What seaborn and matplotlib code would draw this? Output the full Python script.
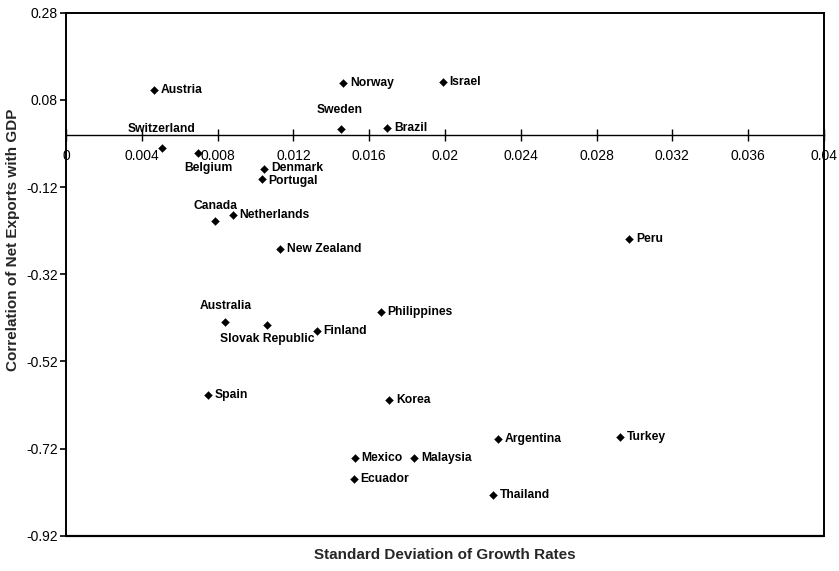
import matplotlib
matplotlib.use("Agg")
import matplotlib.pyplot as plt
import seaborn as sns
import pandas as pd
import numpy as np

countries = ["Austria", "Norway", "Israel", "Sweden", "Brazil", "Switzerland",
             "Belgium", "Denmark", "Portugal", "Canada", "Netherlands",
             "New Zealand", "Peru", "Australia", "Slovak Republic", "Finland",
             "Philippines", "Spain", "Korea", "Argentina", "Turkey", "Mexico",
             "Malaysia", "Ecuador", "Thailand"]
std_growth = [0.00464, 0.01462, 0.01988, 0.0145, 0.01695, 0.00507,
              0.00698, 0.01047, 0.01033, 0.00788, 0.0088,
              0.01129, 0.02973, 0.00841, 0.01062, 0.01323,
              0.01661, 0.00748, 0.01704, 0.02278, 0.02923, 0.01523,
              0.01838, 0.01518, 0.02252]
corr_nx = [0.102, 0.118, 0.120, 0.014, 0.016, -0.030,
           -0.041, -0.079, -0.102, -0.199, -0.184,
           -0.262, -0.239, -0.430, -0.436, -0.450,
           -0.4075, -0.597, -0.609, -0.697, -0.694, -0.742,
           -0.741, -0.791, -0.827]

x_ticks = [0, 0.004, 0.008, 0.012, 0.016, 0.02, 0.024, 0.028, 0.032, 0.036, 0.04]
x_tick_labels = ["0", "0.004", "0.008", "0.012", "0.016", "0.02", "0.024",
                 "0.028", "0.032", "0.036", "0.04"]
y_ticks = [0.28, 0.08, -0.12, -0.32, -0.52, -0.72, -0.92]
y_tick_labels = ["0.28", "0.08", "-0.12", "-0.32", "-0.52", "-0.72", "-0.92"]

df = pd.DataFrame({"country": countries, "sd": std_growth, "corr": corr_nx})

sns.set_style("white")
plt.rcParams["font.family"] = ["Liberation Sans", "DejaVu Sans"]
plt.rcParams["axes.unicode_minus"] = False

fig = plt.figure(figsize=(8.39, 5.71), dpi=100)
ax = fig.add_axes([66 / 839, 1 - 535.7 / 571, (824 - 66) / 839, (535.7 - 12.7) / 571])

sns.scatterplot(data=df, x="sd", y="corr", marker="D", s=16, color="black",
                edgecolor="black", linewidth=0.3, ax=ax, zorder=3)

# label placement (style): offsets in points and alignment
special = {
    "Sweden": ((-1, 9), "center", "bottom"),
    "Switzerland": ((0, 9), "center", "bottom"),
    "Belgium": ((7, -7), "center", "top"),
    "Canada": ((0, 7), "center", "bottom"),
    "Australia": ((0, 7), "center", "bottom"),
    "Slovak Republic": ((0, -6), "center", "top"),
    "Denmark": ((5, 1), "left", "center"),
    "Portugal": ((5, -1), "left", "center"),
}
for c, xv, yv in zip(countries, std_growth, corr_nx):
    off, ha, va = special.get(c, ((5, 0), "left", "center"))
    ax.annotate(c, (xv, yv), xytext=off, textcoords="offset points",
                ha=ha, va=va, fontsize=8.7, fontweight="bold", color="black",
                zorder=4)

ax.set_xlim(0, 0.04)
ax.set_ylim(-0.92, 0.28)

for side in ["left", "top", "right", "bottom"]:
    ax.spines[side].set_color("black")
    ax.spines[side].set_linewidth(1.4)
ax.spines["bottom"].set_position(("data", 0))
ax.spines["bottom"].set_linewidth(1.0)
ax.axhline(-0.92, color="black", lw=1.6, clip_on=False, zorder=5)

ax.set_xticks(x_ticks)
ax.set_xticklabels(x_tick_labels)
ax.set_yticks(y_ticks)
ax.set_yticklabels(y_tick_labels)
ax.tick_params(axis="x", direction="inout", length=8, width=1.0, pad=6,
               labelsize=10, colors="black", bottom=True)
ax.tick_params(axis="y", direction="out", length=4, width=1.2, pad=2,
               labelsize=10, colors="black", left=True)

ax.set_xlabel("Standard Deviation of Growth Rates", fontsize=11, fontweight="bold")
ax.set_ylabel("Correlation of Net Exports with GDP", fontsize=11, fontweight="bold")
ax.xaxis.set_label_coords(0.5, -0.024)
ax.yaxis.set_label_coords(-0.061, 0.565)

fig.savefig("out.png", dpi=100)
